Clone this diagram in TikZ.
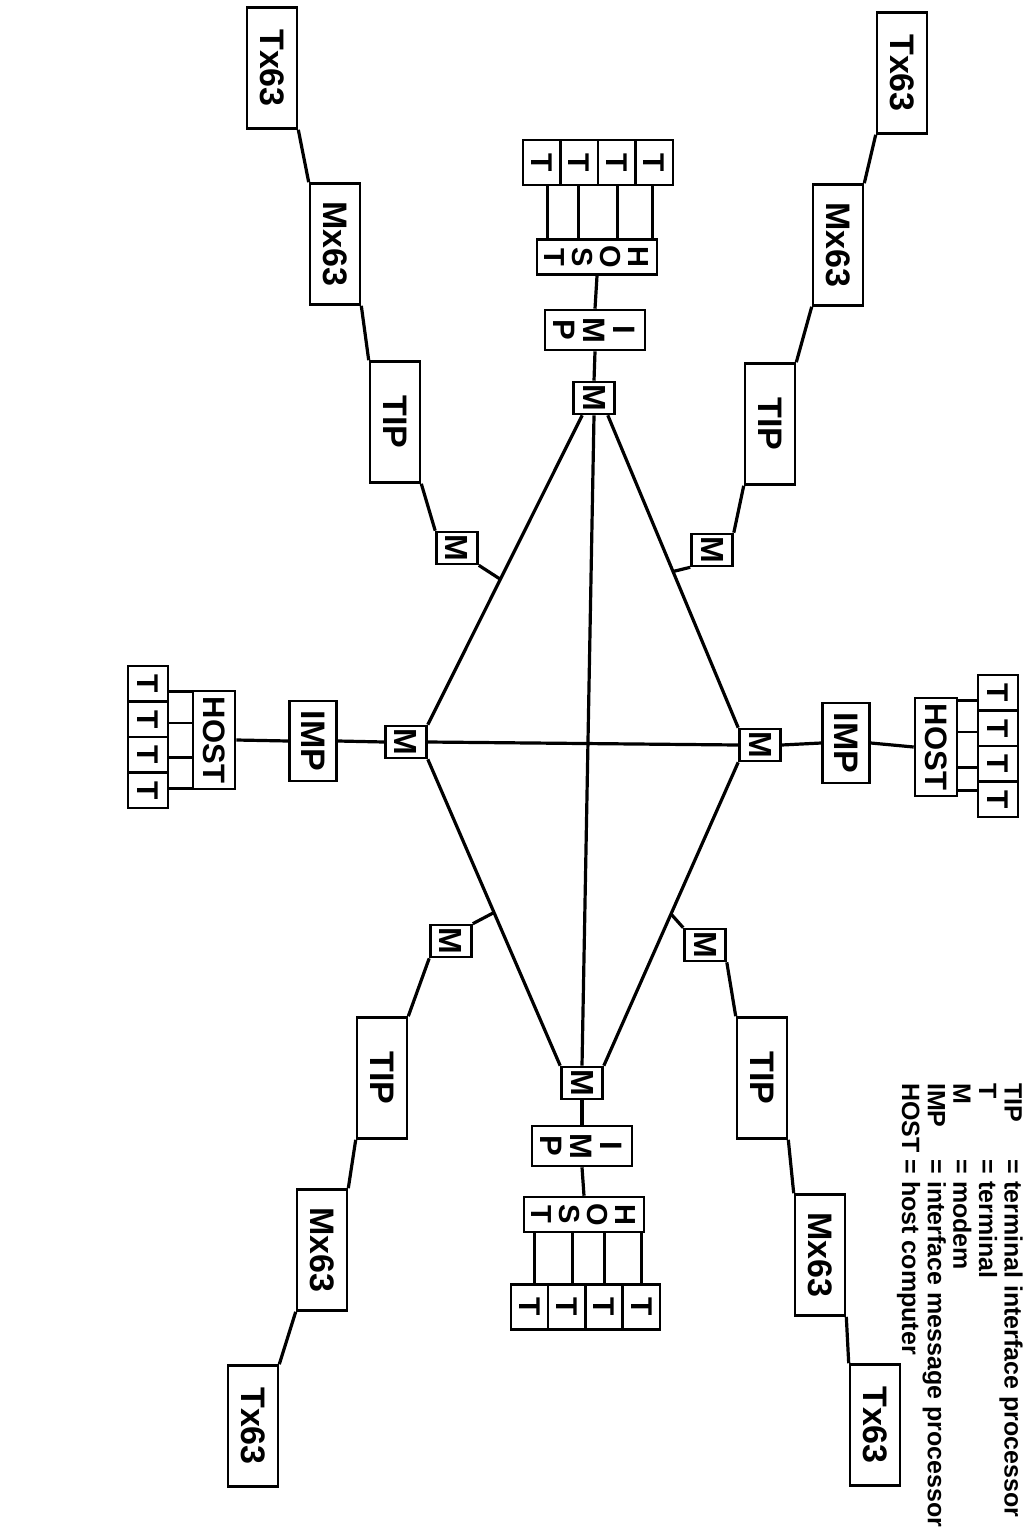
\documentclass[tikz,border=0pt]{standalone}
\usepackage{fontspec}
\setmainfont{Liberation Sans}
\usepackage{graphicx}
\usetikzlibrary{calc}

\newcommand{\rotlabel}[1]{\rotatebox{-90}{#1}}
% stacked letters; the rule evens out the depth of the last row
\newcommand{\vstack}[2]{\rotatebox{-90}{\begin{tabular}{@{}c@{}}\rule{0pt}{#1}#2\end{tabular}}}

\begin{document}
\begin{tikzpicture}[x=1pt, y=-1pt,
  box/.style={rectangle, draw, line width=2.6pt, fill=white, inner sep=0pt,
              font=\bfseries\fontsize{34}{36}\selectfont},
  unit/.style={box, minimum width=50pt, minimum height=121pt},
  modem/.style={box, minimum width=41pt, minimum height=32pt,
                font=\bfseries\fontsize{32}{32}\selectfont},
  impside/.style={box, minimum width=47pt, minimum height=80pt},
  impend/.style={box, minimum width=99pt, minimum height=40pt,
                 font=\bfseries\fontsize{31}{29}\selectfont},
  hostside/.style={box, minimum width=42pt, minimum height=98pt,
                   font=\bfseries\fontsize{31}{32}\selectfont},
  hostend/.style={box, minimum width=116pt, minimum height=35pt,
                  font=\bfseries\fontsize{29}{26}\selectfont},
  termside/.style={box, minimum width=40pt, minimum height=35.5pt,
                   font=\bfseries\fontsize{30}{30}\selectfont},
  termend/.style={box, minimum width=37.5pt, minimum height=45pt,
                  font=\bfseries\fontsize{30}{30}\selectfont},
  link/.style={line width=3.2pt},
  tie/.style={line width=2.8pt}
]
  \useasboundingbox (0,0) rectangle (1023,1530);

  % modems of the central ring
  \node[modem] (mT) at (594,398)  {\rotlabel{M}};
  \node[modem] (mB) at (582,1083) {\rotlabel{M}};
  \node[modem] (mL) at (406,742)  {\rotlabel{M}};
  \node[modem] (mR) at (760,745)  {\rotlabel{M}};

  % top site
  \node[impend]  (impT)  at (595,330) {\vstack{30.9pt}{I\\M\\P}};
  \node[hostend] (hostT) at (597,257) {\vstack{28.6pt}{H\\O\\S\\T}};
  \foreach \i/\x in {1/541.75, 2/579.25, 3/616.75, 4/654.25}
    \node[termend] (tT\i) at (\x,162.5) {\rotlabel{T}};

  % bottom site
  \node[impend]  (impB)  at (582,1146) {\vstack{30.9pt}{I\\M\\P}};
  \node[hostend] (hostB) at (584,1214.5) {\vstack{28.6pt}{H\\O\\S\\T}};
  \foreach \i/\x in {1/529.6, 2/566.9, 3/604.1, 4/641.4}
    \node[termend] (tB\i) at (\x,1307) {\rotlabel{T}};

  % left site
  \node[impside]  (impL)  at (313,741) {\rotlabel{IMP}};
  \node[hostside] (hostL) at (214,740) {\rotlabel{HOST}};
  \foreach \i/\y in {1/683.75, 2/719.25, 3/754.75, 4/790.25}
    \node[termside] (tL\i) at (148,\y) {\rotlabel{T}};

  % right site
  \node[impside]  (impR)  at (846,743) {\rotlabel{IMP}};
  \node[hostside] (hostR) at (936,747) {\rotlabel{HOST}};
  \foreach \i/\y in {1/692.75, 2/728.25, 3/763.75, 4/799.25}
    \node[termside] (tR\i) at (998,\y) {\rotlabel{T}};

  % terminal chains
  \node[modem] (mUL) at (457,548) {\rotlabel{M}};
  \node[unit] (tipUL) at (395,422) {\rotlabel{TIP}};
  \node[unit] (mxUL)  at (335,244) {\rotlabel{Mx63}};
  \node[unit] (txUL)  at (272,68)  {\rotlabel{Tx63}};

  \node[modem] (mUR) at (712,550) {\rotlabel{M}};
  \node[unit] (tipUR) at (770,424) {\rotlabel{TIP}};
  \node[unit] (mxUR)  at (838,245) {\rotlabel{Mx63}};
  \node[unit] (txUR)  at (902,73)  {\rotlabel{Tx63}};

  \node[modem] (mLL) at (451,941) {\rotlabel{M}};
  \node[unit] (tipLL) at (382,1078) {\rotlabel{TIP}};
  \node[unit] (mxLL)  at (322,1250) {\rotlabel{Mx63}};
  \node[unit] (txLL)  at (253,1426) {\rotlabel{Tx63}};

  \node[modem] (mLR) at (705,945) {\rotlabel{M}};
  \node[unit] (tipLR) at (762,1078) {\rotlabel{TIP}};
  \node[unit] (mxLR)  at (820,1255) {\rotlabel{Mx63}};
  \node[unit] (txLR)  at (875,1425) {\rotlabel{Tx63}};

  % ring
  \draw[link] ([xshift=10pt]mT.south west) -- (mL.north east);
  \draw[link] ([xshift=-8pt]mT.south east) -- (mR.north west);
  \draw[link] (mL.south east) -- (mB.north west);
  \draw[link] (mR.south west) -- (mB.north east);
  \draw[link] (mT.south) -- (mB.north);
  \draw[link] (mL.east) -- (mR.west);

  \coordinate (pUL) at ($([xshift=10pt]mT.south west)!0.53!(mL.north east)$);
  \coordinate (pUR) at ($([xshift=-8pt]mT.south east)!0.5!(mR.north west)$);
  \coordinate (pLL) at ($(mL.south east)!0.5!(mB.north west)$);
  \coordinate (pLR) at ($(mR.south west)!0.5!(mB.north east)$);

  % sites
  \draw[link] (mT.north) -- (impT.south);
  \draw[link] (impT.north) -- (hostT.south);
  \draw[link] (mB.south) -- (impB.north);
  \draw[link] (impB.south) -- (hostB.north);
  \draw[link] (mL.west) -- (impL.east);
  \draw[link] (impL.west) -- (hostL.east);
  \draw[link] (mR.east) -- (impR.west);
  \draw[link] (impR.east) -- (hostR.west);

  \foreach \i/\f in {1/0.1, 2/0.35, 3/0.67, 4/0.95} {
    \coordinate (a) at ($(hostT.north west)!\f!(hostT.north east)$);
    \draw[tie] (a) -- (a |- tT\i.south);
  }
  \foreach \i/\f in {1/0.095, 2/0.405, 3/0.67, 4/0.97} {
    \coordinate (a) at ($(hostB.south west)!\f!(hostB.south east)$);
    \draw[tie] (a) -- (a |- tB\i.north);
  }
  \foreach \i/\f in {1/0.02, 2/0.33, 3/0.67, 4/0.98} {
    \coordinate (a) at ($(hostL.north west)!\f!(hostL.south west)$);
    \draw[tie] (a) -- (a -| tL\i.east);
  }
  \foreach \i/\f in {1/0.04, 2/0.35, 3/0.7, 4/0.93} {
    \coordinate (a) at ($(hostR.north east)!\f!(hostR.south east)$);
    \draw[tie] (a) -- (a -| tR\i.west);
  }

  % chains
  \draw[link] (pUL) -- (mUL.south east);
  \draw[link] (mUL.north west) -- (tipUL.south east);
  \draw[link] (tipUL.north west) -- (mxUL.south east);
  \draw[link] (mxUL.north west) -- (txUL.south east);

  \draw[link] (pUR) -- (mUR.south west);
  \draw[link] (mUR.north east) -- (tipUR.south west);
  \draw[link] (tipUR.north east) -- (mxUR.south west);
  \draw[link] (mxUR.north east) -- (txUR.south west);

  \draw[link] (pLL) -- (mLL.north east);
  \draw[link] (mLL.south west) -- (tipLL.north east);
  \draw[link] (tipLL.south west) -- (mxLL.north east);
  \draw[link] (mxLL.south west) -- (txLL.north east);

  \draw[link] (pLR) -- (mLR.north west);
  \draw[link] (mLR.south east) -- (tipLR.north west);
  \draw[link] (tipLR.south east) -- (mxLR.north west);
  \draw[link] (mxLR.south east) -- (txLR.north west);

  % legend
  \node[anchor=north east, inner sep=0pt,
        font=\bfseries\fontsize{25}{25}\selectfont] (legend) at (1023,1083)
    {\rotatebox{-90}{\begin{tabular}{@{}l@{ }l@{}}
      TIP  & = terminal interface processor\\
      T    & = terminal\\
      M    & = modem\\
      IMP  & = interface message processor\\
      HOST & = host computer
    \end{tabular}}};
\end{tikzpicture}
\end{document}
